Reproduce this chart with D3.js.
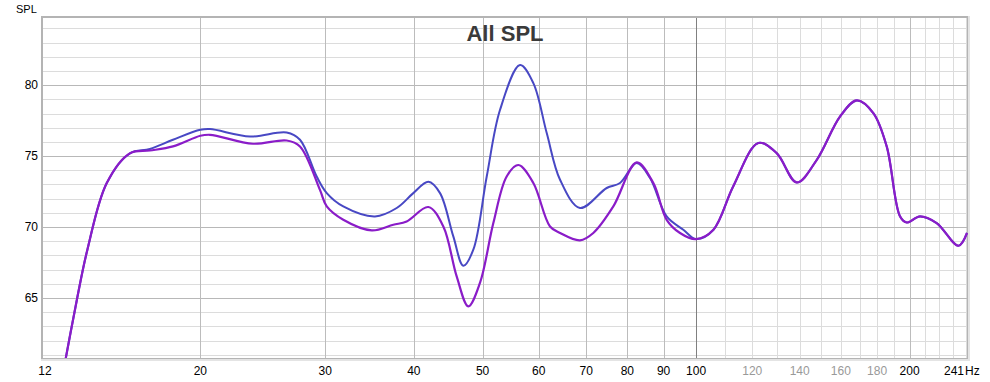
<!DOCTYPE html>
<html><head><meta charset="utf-8">
<script src="https://cdn.jsdelivr.net/npm/d3@7"></script>
<style>html,body{margin:0;padding:0;background:#fff;}svg{display:block;font-family:"Liberation Sans",Arial,sans-serif;}</style>
</head><body>
<svg id="c" width="990" height="382"></svg>
<script>
const title = "All SPL";
const yLabel = "SPL";
const xUnit = "Hz";
const xDomain = [12, 241];
const yDomain = [60.77, 84.73];
const xMajorTicks = [12, 20, 30, 40, 50, 60, 70, 80, 90, 100, 200, 241];
const xMinorLabelTicks = [120, 140, 160, 180];
const xMinorGrid = [110, 120, 130, 140, 150, 160, 170, 180, 190, 210, 220, 230, 240];
const yTicks = [65, 70, 75, 80];

const freqBlue = [12.76, 13.41, 13.86, 14.76, 15.92, 16.98, 18.30, 20.0, 20.64, 23.5, 26.47, 27.64, 29.18, 30.15, 31.81, 35.26, 37.84, 39.93, 41.93, 43.55, 45.47, 46.97, 48.52, 50.68, 52.92, 56.47, 58.96, 61.58, 64.3, 68.6, 74.82, 78.12, 82.47, 86.12, 90.9, 95.95, 100,
  105.8, 112.8, 122.4, 129.9, 138.7, 148, 159.6, 168.5, 177.8, 185.7, 193.9, 198.2, 206.9, 218.4, 234.4, 241];
const splBlue = [59.3, 65.0, 68.4, 73.1, 75.2, 75.5, 76.15, 76.85, 76.9, 76.38, 76.66, 76.15, 73.56, 72.39, 71.45, 70.75, 71.34, 72.39, 73.19, 72.39, 69.34, 67.27, 68.4, 73.56, 78.26, 81.41, 80.14, 76.62, 73.33, 71.34, 72.75, 73.1, 74.51, 73.45, 70.75, 69.81, 69.15,
  69.81, 72.86, 75.92, 75.21, 73.14, 74.74, 77.79, 78.92, 78.03, 75.68, 70.75, 70.32, 70.75, 70.28, 68.68, 69.58];

const freqPurple = [12.76, 13.41, 13.86, 14.76, 15.92, 16.98, 18.30, 20.0, 20.64, 23.73, 26.47, 27.64, 29.5, 30.15, 31.81, 34.89, 37.42, 39.08, 41.93, 44.02, 45.97, 47.74, 49.58, 51.78, 54.07, 56.16, 58.96, 62.24, 64.3, 68.6, 71.63, 76.44, 82.47, 87.05, 90.9, 94.92, 100,
  105.8, 112.8, 122.4, 129.9, 138.7, 148, 159.6, 168.5, 177.8, 185.7, 193.9, 198.2, 206.9, 218.4, 234.4, 241];
const splPurple = [59.3, 65.0, 68.4, 73.1, 75.2, 75.39, 75.68, 76.43, 76.5, 75.87, 76.1, 75.68, 72.6, 71.45, 70.51, 69.76, 70.16, 70.39, 71.41, 70.04, 66.52, 64.41, 66.06, 70.28, 73.56, 74.37, 73.1, 70.04, 69.58, 69.06, 69.58, 71.45, 74.55, 73.1, 70.51, 69.58, 69.15,
  69.81, 72.86, 75.92, 75.21, 73.14, 74.74, 77.79, 78.92, 78.03, 75.68, 70.75, 70.32, 70.75, 70.28, 68.68, 69.58];

const L = 43, R = 967, T = 18, B = 358;
const svg = d3.select("#c");
const x = d3.scaleLog().domain(xDomain).range([L, R]);
const y = d3.scaleLinear().domain(yDomain).range([B, T]);

// shadow / frame
svg.append("rect").attr("x", L - 2).attr("y", T - 2).attr("width", R - L + 5).attr("height", B - T + 5)
  .attr("fill", "#e4e4e4");
svg.append("rect").attr("x", L - 2).attr("y", T - 2).attr("width", R - L + 3).attr("height", B - T + 3)
  .attr("fill", "#b4b4b4");
svg.append("rect").attr("x", L).attr("y", T).attr("width", R - L).attr("height", B - T).attr("fill", "#fff");

const g = svg.append("g");
const yMinor = d3.range(Math.ceil(yDomain[0]), Math.floor(yDomain[1]) + 1).filter(v => v % 5 !== 0);
g.selectAll(".hm").data(yMinor).join("line")
  .attr("x1", L).attr("x2", R).attr("y1", d => Math.round(y(d)) + 0.5).attr("y2", d => Math.round(y(d)) + 0.5)
  .attr("stroke", "#dcdcdc").attr("stroke-width", 1);
g.selectAll(".vm").data(xMinorGrid).join("line")
  .attr("y1", T).attr("y2", B).attr("x1", d => Math.round(x(d)) + 0.5).attr("x2", d => Math.round(x(d)) + 0.5)
  .attr("stroke", "#dcdcdc").attr("stroke-width", 1);
g.selectAll(".hM").data(yTicks).join("line")
  .attr("x1", L).attr("x2", R).attr("y1", d => Math.round(y(d)) + 0.5).attr("y2", d => Math.round(y(d)) + 0.5)
  .attr("stroke", "#b8b8b8").attr("stroke-width", 1);
g.selectAll(".vM").data([20, 30, 40, 50, 60, 70, 80, 90, 100, 200]).join("line")
  .attr("y1", T).attr("y2", B).attr("x1", d => Math.round(x(d)) + 0.5).attr("x2", d => Math.round(x(d)) + 0.5)
  .attr("stroke", d => d === 100 ? "#808080" : "#bcbcbc").attr("stroke-width", 1);

svg.append("text").attr("x", 505).attr("y", 41).attr("text-anchor", "middle")
  .attr("font-size", 22).attr("font-weight", "bold").attr("fill", "#3a3a3a").text(title);

svg.append("clipPath").attr("id", "clip").append("rect").attr("x", L).attr("y", T).attr("width", R - L + 1).attr("height", B - T);
const line = d3.line().x(d => x(d[0])).y(d => y(d[1])).curve(d3.curveCatmullRom.alpha(0.5));
const blue = freqBlue.map((f, i) => [f, splBlue[i]]);
const purple = freqPurple.map((f, i) => [f, splPurple[i]]);
const cg = svg.append("g").attr("clip-path", "url(#clip)");
cg.append("path").datum(blue).attr("d", line).attr("fill", "none").attr("stroke", "#4848c4").attr("stroke-width", 2);
cg.append("path").datum(purple).attr("d", line).attr("fill", "none").attr("stroke", "#8a1cc8").attr("stroke-width", 2.2);

svg.append("text").attr("x", 16).attr("y", 13).attr("font-size", 11).attr("fill", "#000").text(yLabel);
svg.selectAll(".yl").data(yTicks).join("text")
  .attr("x", 38).attr("y", d => y(d) + 4).attr("text-anchor", "end").attr("font-size", 12).attr("fill", "#000").text(d => d);
svg.selectAll(".xl").data(xMajorTicks.filter(d => d !== 241)).join("text")
  .attr("x", d => x(d) + (d === 12 ? 2 : 0)).attr("y", 375).attr("text-anchor", "middle").attr("font-size", 12).attr("fill", "#000").text(d => d);
svg.selectAll(".xg").data(xMinorLabelTicks).join("text")
  .attr("x", d => x(d)).attr("y", 375).attr("text-anchor", "middle").attr("font-size", 12).attr("fill", "#999").text(d => d);
svg.append("text").attr("x", x(241) - 3).attr("y", 375).attr("text-anchor", "end").attr("font-size", 12).attr("fill", "#000").text(xDomain[1]);
svg.append("text").attr("x", x(241) - 2).attr("y", 375).attr("text-anchor", "start").attr("font-size", 12).attr("fill", "#000").text(xUnit);
</script>
</body></html>
